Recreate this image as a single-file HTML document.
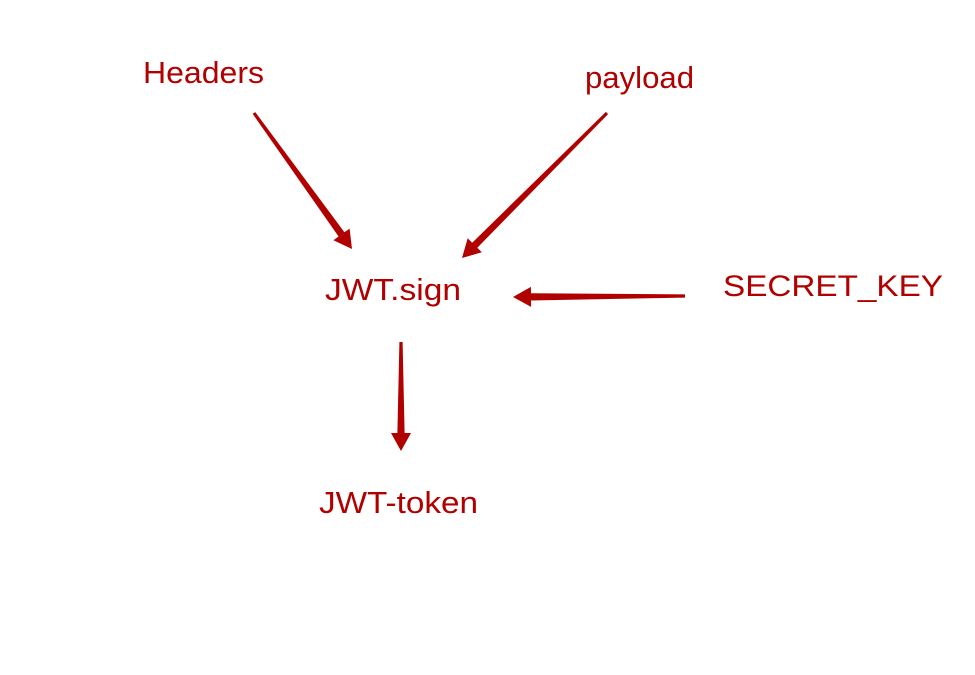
<!DOCTYPE html>
<html><head><meta charset="utf-8"><style>
html,body{margin:0;padding:0;background:#fff;width:975px;height:675px;overflow:hidden}
text{font-family:"Liberation Sans",sans-serif;fill:#b00000}
</style></head><body>
<svg id="s" width="975" height="675" viewBox="0 0 975 675" xmlns="http://www.w3.org/2000/svg">
<text x="143" y="83" font-size="31" textLength="121" lengthAdjust="spacingAndGlyphs">Headers</text>
<text x="585" y="88" font-size="31" textLength="109" lengthAdjust="spacingAndGlyphs">payload</text>
<text x="325" y="300" font-size="31" textLength="136" lengthAdjust="spacingAndGlyphs">JWT.sign</text>
<text x="723" y="296" font-size="30" textLength="220" lengthAdjust="spacingAndGlyphs">SECRET_KEY</text>
<text x="319" y="513" font-size="31" textLength="159" lengthAdjust="spacingAndGlyphs">JWT-token</text>
</svg>
<script>
var s=document.getElementById('s');
function arrow(x1,y1,x2,y2){
 var dx=x2-x1,dy=y2-y1,L=Math.hypot(dx,dy),ux=dx/L,uy=dy/L,nx=-uy,ny=ux;
 var hl=18,hw=10,w0=1.6,w1=3.6;
 var bx=x2-ux*hl,by=y2-uy*hl;
 var p=[[x1+nx*w0,y1+ny*w0],[bx+nx*w1,by+ny*w1],[bx+nx*hw,by+ny*hw],[x2,y2],[bx-nx*hw,by-ny*hw],[bx-nx*w1,by-ny*w1],[x1-nx*w0,y1-ny*w0]];
 var e=document.createElementNS('http://www.w3.org/2000/svg','polygon');
 e.setAttribute('points',p.map(function(q){return q[0].toFixed(1)+','+q[1].toFixed(1)}).join(' '));
 e.setAttribute('fill','#b00000');
 s.appendChild(e);
}
arrow(254,113,352,249);
arrow(607,113,462,258);
arrow(685,296,513,297);
arrow(401,342,401,451);
</script>
</body></html>
